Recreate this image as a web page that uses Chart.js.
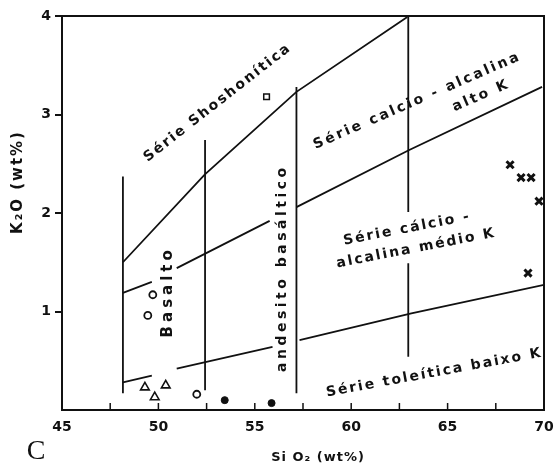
<!DOCTYPE html>
<html>
<head>
<meta charset="utf-8">
<script src="https://cdn.jsdelivr.net/npm/chart.js@4.4.1/dist/chart.umd.min.js"></script>
<style>
  html, body { margin: 0; padding: 0; background: #fff; }
</style>
</head>
<body>
<canvas id="k2oChart" width="555" height="470"></canvas>
<script>
// Boundary lines, SiO2 (x) vs K2O (y). A null y breaks the line (gap around labels)
const shoX = [48.16, 52.4, 57.16, 62.91];
const shoY = [1.50, 2.39, 3.23, 3.99];
const highKX = [48.16, 49.66, 50.3, 50.95, 55.77, 56.5, 57.16, 63.01, 69.9];
const highKY = [1.19, 1.30, null, 1.44, 1.92, null, 2.06, 2.64, 3.28];
const lowKX = [48.16, 49.66, 50.3, 50.95, 55.92, 56.6, 57.32, 63.12, 70];
const lowKY = [0.28, 0.35, null, 0.42, 0.64, null, 0.71, 0.98, 1.27];

// Vertical dividers (basalto / andesito basaltico / andesito)
const v1X = [48.16, 48.16];
const v1Y = [0.17, 2.37];
const v2X = [52.42, 52.42];
const v2Y = [0.20, 2.74];
const v3X = [57.16, 57.16];
const v3Y = [0.17, 3.28];
const v4X = [62.96, 62.96, 62.96, 62.96, 62.96];
const v4Y = [4.0, 2.01, null, 1.49, 0.54];

// Samples
const squareX = [55.61];
const squareY = [3.18];
const openCircX = [49.71, 49.45, 51.99];
const openCircY = [1.17, 0.96, 0.16];
const fullCircX = [53.44, 55.87];
const fullCircY = [0.10, 0.07];
const triX = [49.30, 49.81, 50.38];
const triY = [0.23, 0.13, 0.25];
const crossX = [68.24, 68.81, 69.33, 69.74, 69.17];
const crossY = [2.49, 2.36, 2.36, 2.12, 1.39];

// Field labels
const labelText = ['Série Shoshonítica', 'Série calcio - alcalina', 'alto K', 'Série cálcio -',
    'alcalina médio K', 'andesito basáltico', 'Basalto', 'Série toleítica baixo K'];
const labelX = [53.07, 63.43, 66.74, 62.9, 63.37, 56.44, 50.49, 64.31];
const labelY = [3.12, 3.14, 3.19, 1.84, 1.64, 1.44, 1.20, 0.376];
const labelAngle = [-38, -23.5, -23.5, -11, -11, -90, -90, -10.5];
const labelSpacing = [2, 2.5, 2.5, 2, 2, 3.5, 4, 2];
const labelSize = [14, 14, 14, 14, 14, 14, 15, 14];

const xTickStep = 2.5;

function toPts(xs, ys) {
    return xs.map((x, i) => ({ x: x, y: ys[i] }));
}

function lineSet(xs, ys) {
    return {
        data: toPts(xs, ys),
        showLine: true,
        spanGaps: false,
        borderColor: '#111',
        borderWidth: 1.8,
        pointRadius: 0,
        fill: false
    };
}

function markSet(xs, ys, style, radius, filled, width) {
    return {
        data: toPts(xs, ys),
        showLine: false,
        pointStyle: style,
        pointRadius: radius,
        pointBackgroundColor: filled ? '#111' : '#fff',
        pointBorderColor: '#111',
        pointBorderWidth: width,
        clip: false
    };
}

// frame, inward x ticks, axis titles and field labels
const paperPlugin = {
    id: 'paper',
    afterDraw(chart) {
        const ctx = chart.ctx;
        const a = chart.chartArea;
        const xs = chart.scales.x;
        const ys = chart.scales.y;
        ctx.save();
        ctx.strokeStyle = '#111';
        ctx.lineWidth = 2;
        ctx.strokeRect(a.left, a.top, a.right - a.left, a.bottom - a.top);

        ctx.lineWidth = 1.5;
        xs.ticks.forEach(t => {
            if (t.value <= 45 || t.value >= 70) return;
            const px = xs.getPixelForValue(t.value);
            ctx.beginPath();
            ctx.moveTo(px, a.bottom);
            ctx.lineTo(px, a.bottom - 7);
            ctx.stroke();
        });

        ctx.fillStyle = '#111';
        ctx.textAlign = 'center';
        ctx.textBaseline = 'middle';

        labelText.forEach((txt, i) => {
            ctx.save();
            ctx.font = 'bold ' + labelSize[i] + 'px "DejaVu Sans"';
            ctx.letterSpacing = labelSpacing[i] + 'px';
            ctx.translate(xs.getPixelForValue(labelX[i]), ys.getPixelForValue(labelY[i]));
            ctx.rotate(labelAngle[i] * Math.PI / 180);
            ctx.fillText(txt, 0, 0);
            ctx.restore();
        });

        // axis titles
        ctx.font = 'bold 15px "DejaVu Sans"';
        ctx.letterSpacing = '2px';
        ctx.save();
        ctx.translate(18, 182);
        ctx.rotate(-Math.PI / 2);
        ctx.fillText('K₂O (wt%)', 0, 0);
        ctx.restore();

        ctx.font = 'bold 13px "DejaVu Sans"';
        ctx.letterSpacing = '1px';
        ctx.fillText('Si O₂ (wt%)', 318, 458);

        ctx.letterSpacing = '0px';
        ctx.font = '28px "Liberation Serif"';
        ctx.fillText('C', 36, 452);
        ctx.restore();
    }
};

new Chart(document.getElementById('k2oChart'), {
    type: 'scatter',
    data: {
        datasets: [
            lineSet(shoX, shoY),
            lineSet(highKX, highKY),
            lineSet(lowKX, lowKY),
            lineSet(v1X, v1Y),
            lineSet(v2X, v2Y),
            lineSet(v3X, v3Y),
            lineSet(v4X, v4Y),
            markSet(squareX, squareY, 'rect', 4, false, 1.5),
            markSet(openCircX, openCircY, 'circle', 3.5, false, 1.8),
            markSet(fullCircX, fullCircY, 'circle', 3.5, true, 1),
            markSet(triX, triY, 'triangle', 5, false, 1.6),
            markSet(crossX, crossY, 'crossRot', 5, false, 3)
        ]
    },
    options: {
        responsive: false,
        animation: false,
        layout: { padding: { top: 16, right: 11, left: 0, bottom: 0 } },
        plugins: {
            legend: { display: false },
            tooltip: { enabled: false }
        },
        scales: {
            x: {
                type: 'linear',
                min: 45,
                max: 70,
                grid: { display: false, drawTicks: false },
                border: { display: false },
                ticks: {
                    stepSize: xTickStep,
                    autoSkip: false,
                    maxRotation: 0,
                    padding: 9,
                    color: '#111',
                    font: { family: 'DejaVu Sans', size: 14, weight: 'bold' },
                    callback: v => (v % 5 === 0 ? v : '')
                },
                afterFit: s => {
                    s.height = 60;
                    s.paddingLeft = 0;
                    s.paddingRight = 0;
                }
            },
            y: {
                min: 0,
                max: 4,
                grid: {
                    drawOnChartArea: false,
                    tickLength: 7,
                    lineWidth: 2,
                    color: c => (c.tick && c.tick.value === 0 ? 'rgba(0,0,0,0)' : '#111')
                },
                border: { display: false },
                ticks: {
                    stepSize: 1,
                    padding: 4,
                    color: '#111',
                    font: { family: 'DejaVu Sans', size: 14, weight: 'bold' },
                    callback: v => (v === 0 ? '' : v)
                },
                afterFit: s => {
                    s.width = 62;
                    s.paddingTop = 0;
                    s.paddingBottom = 0;
                }
            }
        }
    },
    plugins: [paperPlugin]
});
</script>
</body>
</html>
